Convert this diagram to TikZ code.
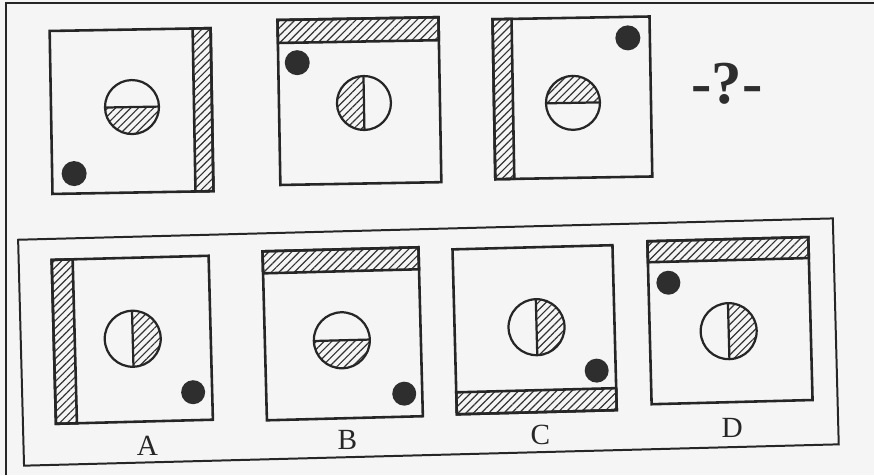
\documentclass[tikz,border=0pt]{standalone}
\usepackage{fontspec}
\setmainfont{Liberation Serif}
\usetikzlibrary{patterns.meta,calc}
\tikzset{
    fundo/.style={fill=black!4},
    borda/.style={draw=black!85, line width=1.2pt},
    quadro/.style={draw=black!85, line width=2.2pt, line join=miter},
    listras/.style={
        pattern={Lines[angle=45, distance=4.6pt, line width=1pt]},
        pattern color=black!80
    },
    faixa/.style={quadro, listras},
    aro/.style={draw=black!85, line width=1.9pt},
    ponto/.style={fill=black!82},
    moldura/.style={draw=black!85, line width=1.7pt},
    rotulo/.style={font=\fontsize{25}{28}\selectfont, inner sep=0pt, text=black!85},
    pergunta/.style={font=\fontsize{52}{58}\selectfont\bfseries, inner sep=0pt, text=black!82}
}
% caixa e faixa: canto x1 y1 x2 y2
\newcommand{\caixa}[4]{\draw[quadro] (#1,#2) -- (#3,#2) -- (#3,#4) -- (#1,#4) -- cycle;}
\newcommand{\barra}[4]{\filldraw[faixa] (#1,#2) -- (#3,#2) -- (#3,#4) -- (#1,#4) -- cycle;}
% disco meio listrado: centro, angulo inicial, raio
\newcommand{\disco}[3]{%
    \fill[listras] (#1) ++(#2:#3) arc[start angle=#2, delta angle=180, radius=#3] -- cycle;
    \draw[aro] (#1) ++(#2:#3) -- ++(#2:-2*#3);
    \draw[aro] (#1) circle[radius=#3];}

\begin{document}
\begin{tikzpicture}[x=0.03cm, y=0.03cm]
    \fill[fundo] (0,0) rectangle (874,-475);
    \useasboundingbox (0,0) rectangle (874,-475);
    \draw[borda] (6,-475) -- (6,-3) -- (874,-3);

    % sequencia
    \begin{scope}[rotate around={1:(450,-105)}]
        \coordinate (c1) at (132,-101.5);
        \coordinate (p1) at (73,-167);
        \caixa{51}{-24}{212}{-187}
        \barra{194}{-24}{212}{-187}
        \disco{c1}{180}{27}
        \fill[ponto] (p1) circle[radius=12.5];

        \coordinate (c2) at (364,-101.5);
        \coordinate (p2) at (298,-60);
        \caixa{279}{-17}{440}{-182}
        \barra{279}{-17}{440}{-40}
        \disco{c2}{90}{27}
        \fill[ponto] (p2) circle[radius=12.5];

        \coordinate (c3) at (573,-105);
        \coordinate (p3) at (629,-41);
        \caixa{494}{-20}{651}{-180}
        \barra{494}{-20}{513}{-180}
        \disco{c3}{0}{27}
        \fill[ponto] (p3) circle[radius=12.5];
    \end{scope}
    \node[pergunta] (q) at (727,-84) {-?-};

    % alternativas
    \begin{scope}[rotate around={1.5:(430,-345)}]
        \draw[moldura] (21,-229) -- (836,-229) -- (836,-455) -- (21,-455) -- cycle;

        \coordinate (cA) at (133,-331);
        \coordinate (pA) at (192,-386);
        \caixa{54}{-250}{211}{-414}
        \barra{54}{-250}{75}{-414}
        \disco{cA}{-90}{28}
        \fill[ponto] (pA) circle[radius=12];
        \node[rotulo] (lA) at (145,-438) {A};

        \coordinate (cB) at (342,-338);
        \coordinate (pB) at (403,-393);
        \caixa{265}{-247}{421}{-416}
        \barra{265}{-247}{421}{-269}
        \disco{cB}{180}{28}
        \fill[ponto] (pB) circle[radius=12];
        \node[rotulo] (lB) at (345,-438) {B};

        \coordinate (cC) at (537,-330);
        \coordinate (pC) at (596,-375);
        \caixa{455}{-250}{615}{-415}
        \barra{455}{-393}{615}{-415}
        \disco{cC}{-90}{28}
        \fill[ponto] (pC) circle[radius=12];
        \node[rotulo] (lC) at (538,-438) {C};

        \coordinate (cD) at (729,-339);
        \coordinate (pD) at (670,-289);
        \caixa{650}{-247}{811}{-410}
        \barra{650}{-247}{811}{-268}
        \disco{cD}{-90}{28}
        \fill[ponto] (pD) circle[radius=12];
        \node[rotulo] (lD) at (730,-436) {D};
    \end{scope}
\end{tikzpicture}
\end{document}
